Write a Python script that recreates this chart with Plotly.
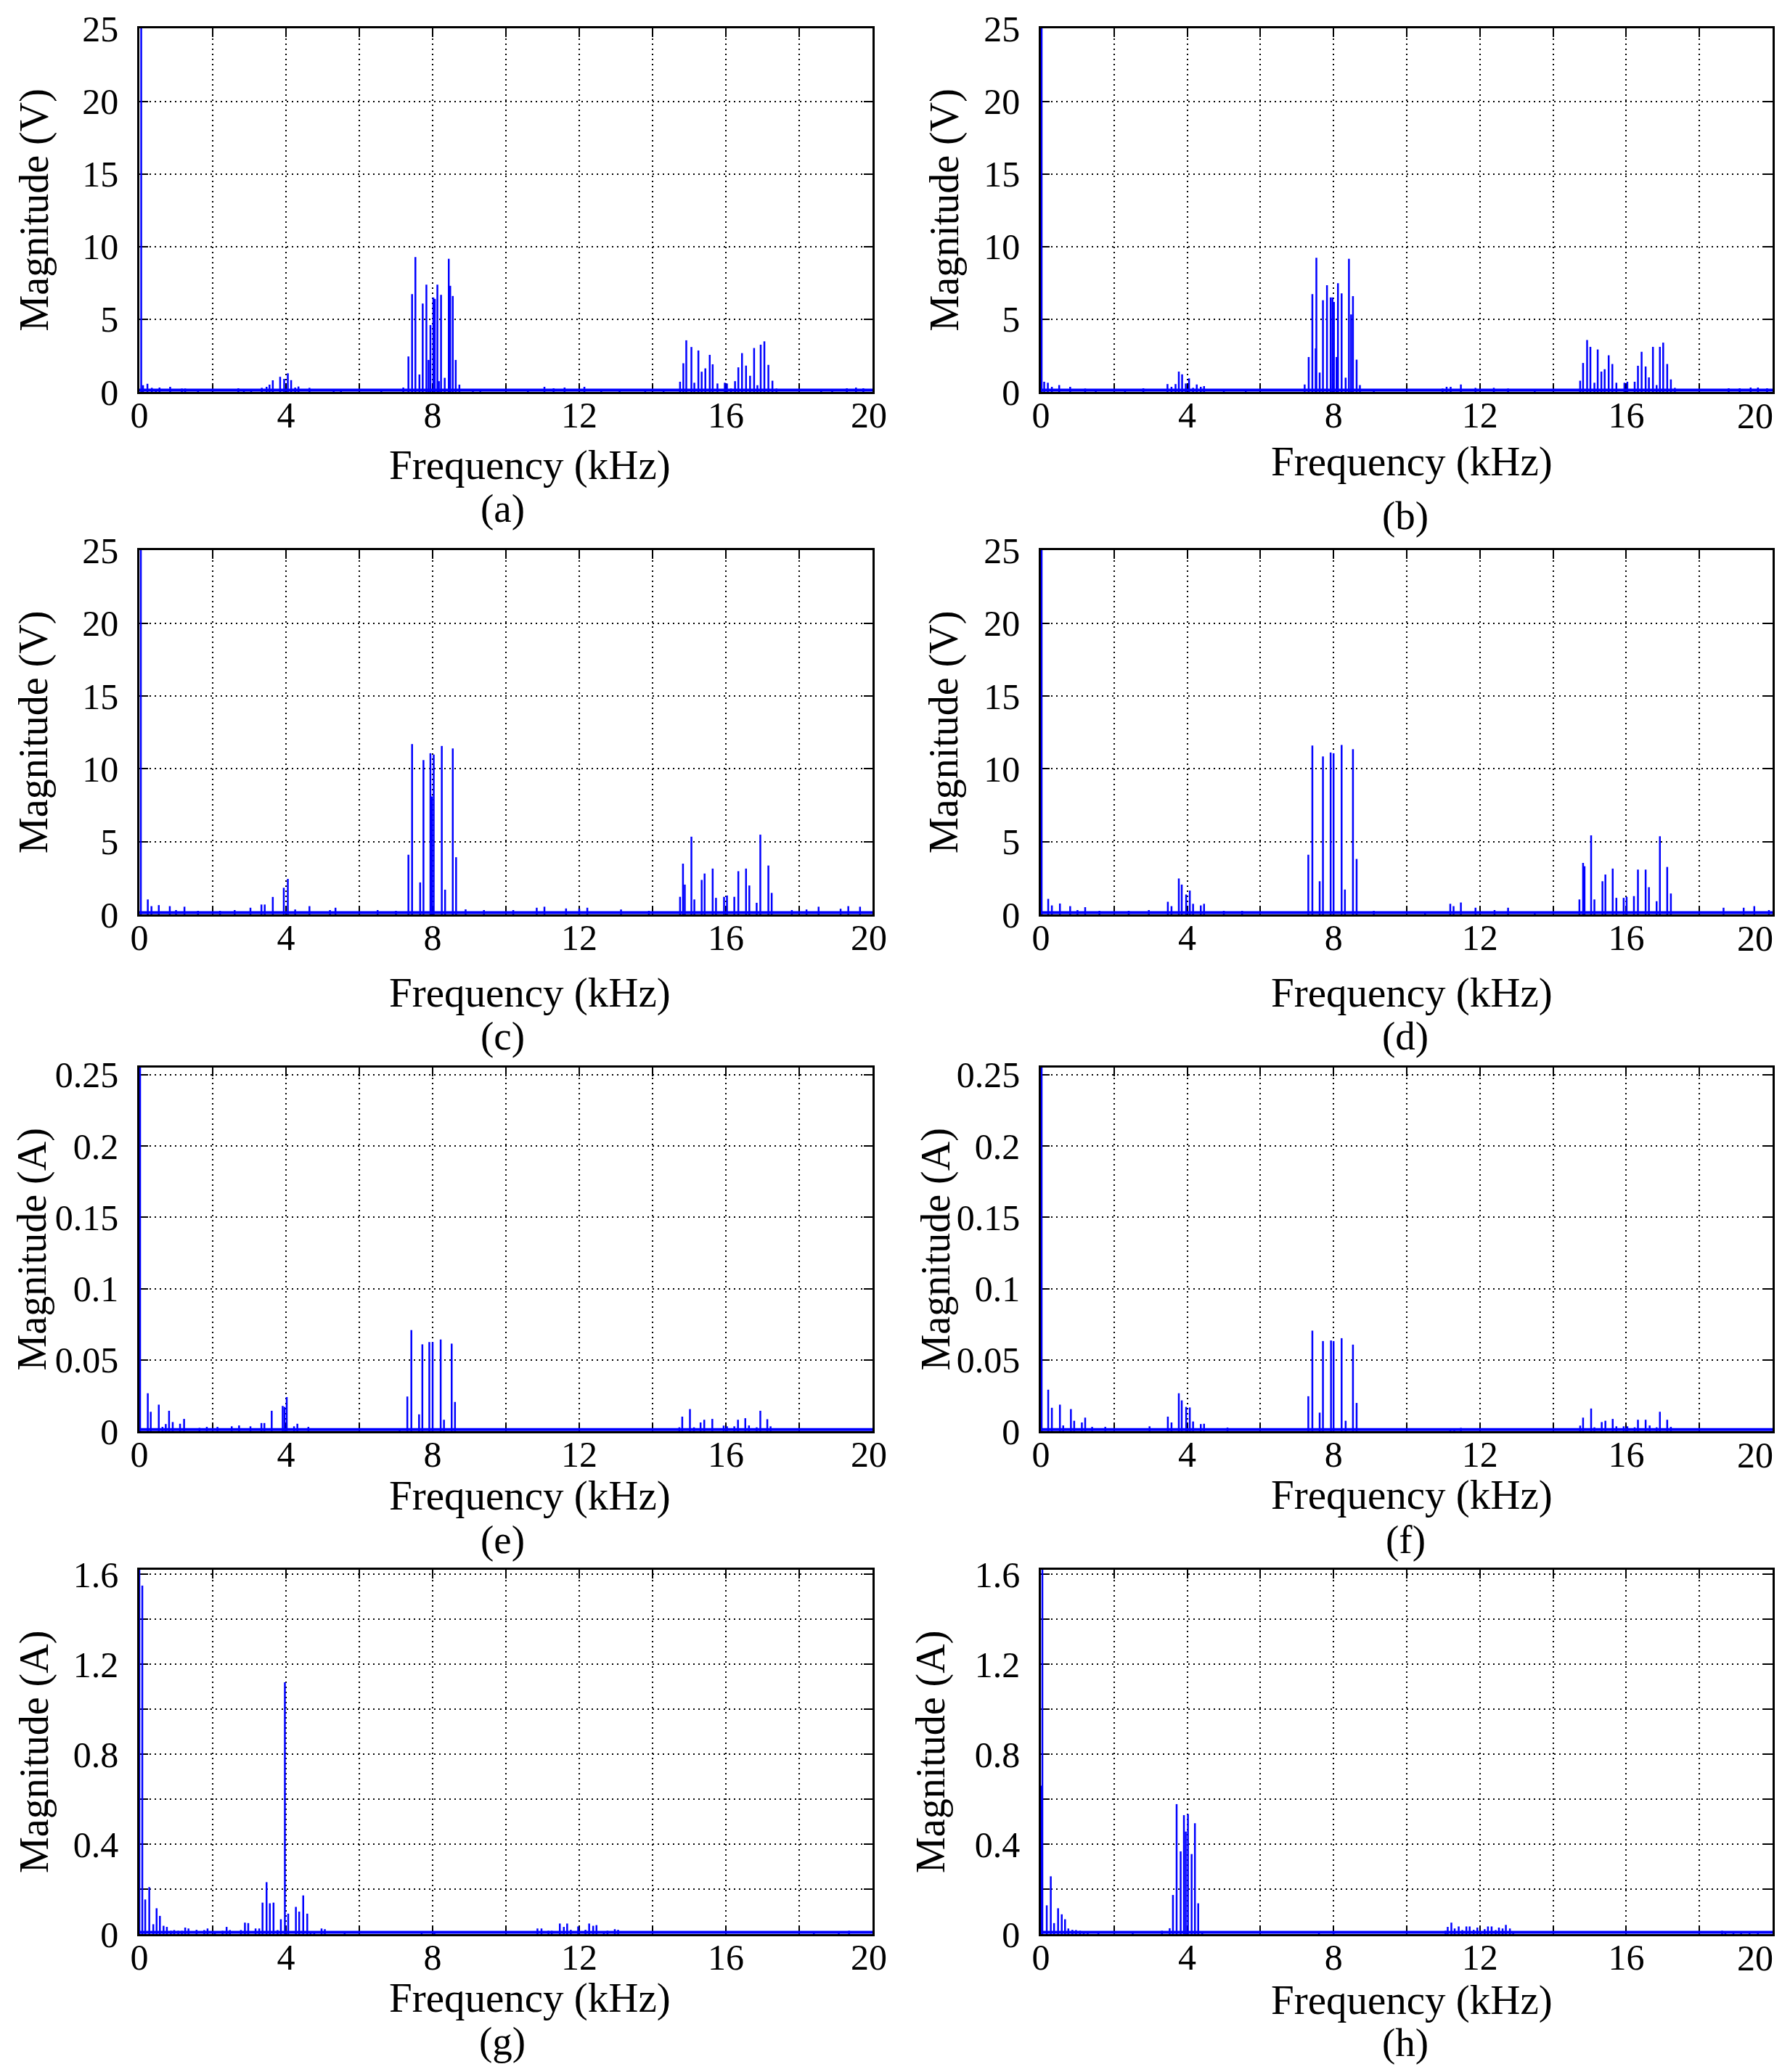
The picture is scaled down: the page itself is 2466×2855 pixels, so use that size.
import plotly.graph_objects as go

W, H = 2466, 2855
OFF = 8  # page offset of the plot div (default body margin)
FONT = "Liberation Serif"
BLUE = "#0000ff"

# ---------------- data: spectral lines (frequency in kHz, magnitude) ----------------
a_freq = [
    0.05, 0.10, 0.22, 0.34, 0.45, 0.55, 0.84, 1.16, 1.25, 1.60,
    2.70, 2.85, 3.05, 3.34, 3.47, 3.55, 3.64, 3.84, 3.95, 4.05,
    4.14, 4.25, 4.34, 4.64, 5.30, 5.50, 6.60, 7.20, 7.34, 7.44,
    7.53, 7.64, 7.73, 7.83, 7.89, 7.94, 8.02, 8.06, 8.13, 8.17,
    8.23, 8.33, 8.44, 8.48, 8.55, 8.63, 8.73, 9.10, 9.30, 10.60,
    11.05, 11.30, 11.60, 12.14, 12.60, 13.10, 13.80, 14.30, 14.75, 14.84,
    14.92, 15.06, 15.14, 15.25, 15.34, 15.44, 15.56, 15.64, 15.77, 15.97,
    16.03, 16.14, 16.25, 16.34, 16.44, 16.55, 16.66, 16.77, 16.86, 16.95,
    17.05, 17.16, 17.27, 17.38, 18.60, 18.90, 19.30, 19.55, 19.75]
a_mag = [
    160, 0.46, 0.56, 0.28, 0.20, 0.30, 0.35, 0.23, 0.23, 0.15,
    0.25, 0.20, 0.20, 0.28, 0.35, 0.50, 0.80, 1.04, 0.90, 1.28,
    0.81, 0.30, 0.37, 0.28, 0.20, 0.20, 0.20, 0.30, 2.44, 6.73,
    9.28, 1.20, 6.08, 7.38, 2.20, 4.60, 6.50, 6.40, 7.38, 0.74,
    6.68, 0.97, 9.16, 7.30, 6.60, 2.20, 0.50, 0.20, 0.15, 0.12,
    0.35, 0.25, 0.30, 0.35, 0.20, 0.20, 0.15, 0.20, 0.70, 1.97,
    3.55, 3.09, 0.63, 2.85, 1.39, 1.62, 2.55, 1.90, 0.58, 0.63,
    0.58, 0.23, 0.74, 1.69, 2.67, 1.81, 1.11, 3.02, 0.46, 3.25,
    3.48, 1.86, 0.77, 0.23, 0.20, 0.20, 0.25, 0.30, 0.25]

b_freq = [
    0.02, 0.09, 0.19, 0.30, 0.50, 0.80, 1.21, 1.50, 2.30, 2.80,
    3.46, 3.57, 3.68, 3.77, 3.86, 3.96, 4.05, 4.16, 4.26, 4.37,
    4.46, 5.00, 5.60, 7.21, 7.32, 7.42, 7.51, 7.53, 7.62, 7.71,
    7.82, 7.92, 7.97, 8.01, 8.08, 8.12, 8.22, 8.33, 8.42, 8.48,
    8.53, 8.63, 8.72, 9.10, 10.98, 11.09, 11.20, 11.48, 11.88, 12.38,
    12.77, 13.50, 14.74, 14.82, 14.93, 15.02, 15.13, 15.22, 15.32, 15.41,
    15.52, 15.62, 15.73, 15.95, 16.03, 16.23, 16.32, 16.42, 16.53, 16.62,
    16.73, 16.83, 16.92, 17.01, 17.12, 17.22, 17.33, 18.80, 19.10, 19.40,
    19.60, 19.85]
b_mag = [
    160, 0.70, 0.63, 0.35, 0.47, 0.35, 0.23, 0.15, 0.15, 0.25,
    0.54, 0.35, 0.54, 1.40, 1.21, 0.58, 0.93, 0.28, 0.51, 0.35,
    0.40, 0.20, 0.20, 0.51, 2.40, 6.73, 2.99, 9.23, 1.33, 6.31,
    7.34, 6.50, 6.50, 6.19, 2.40, 7.48, 6.78, 0.98, 9.16, 5.33,
    6.59, 2.22, 0.47, 0.20, 0.23, 0.35, 0.35, 0.51, 0.28, 0.28,
    0.23, 0.15, 0.77, 1.99, 3.57, 3.10, 0.63, 2.92, 1.40, 1.56,
    2.52, 1.92, 0.63, 0.63, 0.70, 0.70, 1.80, 2.76, 1.75, 1.00,
    3.10, 0.47, 3.10, 3.39, 1.92, 0.86, 0.28, 0.25, 0.25, 0.30,
    0.30, 0.25]

c_freq = [
    0.04, 0.23, 0.33, 0.53, 0.83, 1.00, 1.23, 1.60, 2.20, 2.60,
    3.03, 3.33, 3.42, 3.64, 3.94, 4.05, 4.25, 4.64, 5.20, 5.35,
    6.50, 7.00, 7.34, 7.44, 7.66, 7.75, 7.94, 7.98, 8.03, 8.25,
    8.34, 8.55, 8.64, 8.90, 9.40, 10.20, 10.84, 11.05, 11.64, 12.00,
    12.22, 13.14, 13.90, 14.75, 14.83, 14.88, 15.06, 15.14, 15.34, 15.42,
    15.64, 15.73, 15.95, 16.03, 16.23, 16.34, 16.55, 16.64, 16.84, 16.94,
    17.16, 17.25, 17.80, 18.20, 18.53, 19.13, 19.34, 19.66]
c_mag = [
    160, 1.03, 0.57, 0.64, 0.57, 0.30, 0.53, 0.25, 0.25, 0.30,
    0.46, 0.68, 0.68, 1.20, 1.83, 2.44, 0.34, 0.57, 0.30, 0.46,
    0.30, 0.25, 4.10, 11.70, 2.20, 10.60, 11.07, 8.10, 10.98, 11.57,
    1.70, 11.40, 3.93, 0.35, 0.30, 0.30, 0.46, 0.53, 0.41, 0.40,
    0.46, 0.34, 0.25, 1.21, 3.49, 2.05, 5.34, 1.03, 2.37, 2.81,
    3.15, 1.14, 1.21, 1.30, 1.21, 2.97, 3.15, 1.99, 0.80, 5.48,
    3.36, 1.48, 0.30, 0.34, 0.53, 0.39, 0.57, 0.53]

d_freq = [
    0.02, 0.20, 0.30, 0.52, 0.80, 1.00, 1.21, 1.60, 2.40, 2.95,
    3.47, 3.57, 3.77, 3.85, 3.97, 4.07, 4.16, 4.37, 4.46, 5.00,
    5.50, 7.31, 7.42, 7.62, 7.71, 7.92, 8.00, 8.22, 8.31, 8.53,
    8.63, 9.10, 10.50, 11.19, 11.28, 11.48, 11.88, 12.40, 12.77, 13.50,
    14.72, 14.82, 14.86, 15.04, 15.13, 15.35, 15.43, 15.63, 15.73, 15.93,
    16.01, 16.21, 16.32, 16.53, 16.62, 16.83, 16.92, 17.12, 17.22, 18.66,
    19.21, 19.50, 19.90]
d_mag = [
    160, 1.07, 0.62, 0.75, 0.57, 0.30, 0.50, 0.25, 0.25, 0.30,
    0.87, 0.57, 2.47, 2.05, 1.37, 1.64, 0.73, 0.62, 0.73, 0.25,
    0.25, 4.10, 11.60, 2.28, 10.85, 11.12, 11.07, 11.64, 1.71, 11.35,
    3.81, 0.25, 0.20, 0.73, 0.57, 0.82, 0.46, 0.30, 0.46, 0.20,
    1.03, 3.54, 3.31, 5.43, 1.03, 2.28, 2.74, 3.15, 1.14, 1.14,
    1.21, 1.26, 3.08, 3.08, 1.87, 0.91, 5.37, 3.26, 1.44, 0.46,
    0.46, 0.57, 0.30]

e_freq = [
    0.02, 0.23, 0.31, 0.53, 0.63, 0.72, 0.81, 0.91, 1.11, 1.22,
    1.64, 1.84, 2.13, 2.52, 2.72, 3.03, 3.33, 3.41, 3.61, 3.91,
    3.96, 4.02, 4.22, 4.31, 4.61, 7.10, 7.31, 7.42, 7.63, 7.72,
    7.91, 8.00, 8.22, 8.31, 8.52, 8.61, 14.73, 14.81, 15.02, 15.13,
    15.31, 15.41, 15.63, 15.94, 16.03, 16.23, 16.33, 16.53, 16.63, 16.84,
    16.94, 17.13, 17.22]
e_mag = [
    1.5, 0.0266, 0.0136, 0.0186, 0.0030, 0.0050, 0.0143, 0.0064, 0.0052, 0.0086,
    0.0023, 0.0030, 0.0030, 0.0034, 0.0040, 0.0034, 0.0057, 0.0057, 0.0143, 0.0177,
    0.0170, 0.0239, 0.0034, 0.0052, 0.0030, 0.0020, 0.0243, 0.0709, 0.0118, 0.0609,
    0.0625, 0.0625, 0.0643, 0.0080, 0.0614, 0.0205, 0.0027, 0.0102, 0.0155, 0.0027,
    0.0061, 0.0080, 0.0086, 0.0039, 0.0034, 0.0034, 0.0080, 0.0091, 0.0040, 0.0027,
    0.0143, 0.0084, 0.0034]

f_freq = [
    0.02, 0.20, 0.30, 0.52, 0.61, 0.82, 0.91, 1.12, 1.21, 1.40,
    1.76, 2.97, 3.47, 3.57, 3.77, 3.85, 3.97, 4.07, 4.16, 4.37,
    4.46, 5.10, 7.31, 7.42, 7.62, 7.71, 7.93, 8.00, 8.22, 8.33,
    8.53, 8.63, 11.19, 11.30, 11.48, 14.74, 14.82, 15.04, 15.13, 15.33,
    15.43, 15.63, 15.73, 15.93, 16.03, 16.23, 16.32, 16.53, 16.64, 16.83,
    16.92, 17.12, 17.22]
f_mag = [
    1.5, 0.0291, 0.0164, 0.0186, 0.0040, 0.0155, 0.0073, 0.0061, 0.0095, 0.0030,
    0.0030, 0.0034, 0.0102, 0.0061, 0.0266, 0.0216, 0.0170, 0.0166, 0.0068, 0.0050,
    0.0052, 0.0025, 0.0245, 0.0705, 0.0130, 0.0632, 0.0636, 0.0632, 0.0652, 0.0073,
    0.0607, 0.0198, 0.0018, 0.0018, 0.0023, 0.0039, 0.0095, 0.0159, 0.0027, 0.0064,
    0.0073, 0.0086, 0.0034, 0.0034, 0.0034, 0.0027, 0.0080, 0.0080, 0.0040, 0.0027,
    0.0136, 0.0080, 0.0030]

g_freq = [
    0.00, 0.08, 0.16, 0.27, 0.38, 0.47, 0.56, 0.66, 0.75, 0.86,
    0.95, 1.06, 1.16, 1.25, 1.34, 1.56, 1.77, 1.86, 2.06, 2.27,
    2.38, 2.47, 2.77, 2.88, 2.97, 3.17, 3.27, 3.36, 3.47, 3.56,
    3.66, 3.77, 3.86, 3.97, 4.06, 4.27, 4.36, 4.47, 4.58, 4.67,
    4.77, 4.97, 5.06, 5.60, 7.70, 8.05, 10.86, 10.97, 11.16, 11.25,
    11.47, 11.58, 11.67, 11.77, 11.97, 12.17, 12.27, 12.38, 12.47, 12.67,
    12.77, 12.97, 13.06, 18.40, 19.08, 19.36]
g_mag = [
    3.0, 1.55, 0.154, 0.209, 0.044, 0.115, 0.081, 0.037, 0.032, 0.015,
    0.018, 0.015, 0.015, 0.029, 0.025, 0.019, 0.018, 0.025, 0.012, 0.015,
    0.032, 0.018, 0.018, 0.051, 0.049, 0.025, 0.025, 0.140, 0.231, 0.137,
    0.140, 0.018, 0.066, 1.12, 0.091, 0.121, 0.100, 0.172, 0.091, 0.007,
    0.007, 0.025, 0.022, 0.007, 0.004, 0.007, 0.025, 0.025, 0.015, 0.015,
    0.047, 0.032, 0.047, 0.019, 0.034, 0.019, 0.047, 0.037, 0.040, 0.012,
    0.015, 0.022, 0.019, 0.010, 0.007, 0.015]

h_freq = [
    0.00, 0.04, 0.16, 0.27, 0.36, 0.47, 0.57, 0.66, 0.75, 0.86,
    0.96, 1.07, 1.17, 1.28, 1.57, 2.51, 3.31, 3.52, 3.61, 3.71,
    3.82, 3.91, 3.96, 4.02, 4.12, 4.21, 4.30, 4.41, 7.60, 8.00,
    11.06, 11.12, 11.22, 11.31, 11.42, 11.52, 11.63, 11.72, 11.83, 11.93,
    12.02, 12.13, 12.22, 12.32, 12.43, 12.52, 12.62, 12.71, 12.82, 12.91,
    18.62, 18.71, 18.93, 19.14, 19.37, 19.60]
h_mag = [
    0.66, 3.0, 0.128, 0.257, 0.049, 0.115, 0.088, 0.066, 0.025, 0.019,
    0.018, 0.015, 0.010, 0.008, 0.007, 0.007, 0.015, 0.026, 0.174, 0.578,
    0.368, 0.529, 0.456, 0.534, 0.356, 0.493, 0.137, 0.007, 0.004, 0.004,
    0.015, 0.032, 0.051, 0.025, 0.034, 0.018, 0.034, 0.034, 0.019, 0.029,
    0.010, 0.022, 0.034, 0.034, 0.018, 0.029, 0.025, 0.041, 0.025, 0.007,
    0.015, 0.012, 0.007, 0.007, 0.007, 0.006]

# noise floor level of each spectrum
noise_floor = {"a": 0.12, "b": 0.12, "c": 0.12, "d": 0.12,
               "e": 0.0012, "f": 0.0012, "g": 0.008, "h": 0.008}

panel_labels = ["(a)", "(b)", "(c)", "(d)", "(e)", "(f)", "(g)", "(h)"]
y_titles = ["Magnitude (V)"] * 4 + ["Magnitude (A)"] * 4
x_title = "Frequency (kHz)"

x_ticks = [0, 4, 8, 12, 16, 20]
x_ticktext_left = ["0", "4", "8", "12", "16", "20\u2009"]
x_ticktext_right = ["0", "4", "8", "12", "16", ""]  # last label drawn shifted (see below)
x_last_label = "20"
v_ticks = [0, 5, 10, 15, 20, 25]
ie_ticks = [0, 0.05, 0.1, 0.15, 0.2, 0.25]
ig_ticks = [0, 0.4, 0.8, 1.2, 1.6]

series = [(a_freq, a_mag), (b_freq, b_mag), (c_freq, c_mag), (d_freq, d_mag),
          (e_freq, e_mag), (f_freq, f_mag), (g_freq, g_mag), (h_freq, h_mag)]
keys = "abcdefgh"

# ---------------- layout geometry (page pixels) ----------------
col_px = [(192, 1202), (1434, 2442)]
row_px = [(39, 540), (758, 1260), (1471, 1972), (2163, 2665)]
xtitle_px = [(730, 641), (1945, 636), (730, 1368), (1945, 1368),
             (730, 2061), (1945, 2060), (730, 2753), (1945, 2756)]
cap_px = [(692, 700), (1936, 711), (692, 1427), (1936, 1427),
          (692, 2121), (1936, 2121), (692, 2812), (1936, 2814)]
ytitle_x = [47, 1301, 47, 1301, 44, 1289, 47, 1282]


def px_x(p):
    return (p - OFF) / W


def px_y(p):
    return 1 - (p - OFF) / H


fig = go.Figure()
ann = []
GRID = dict(gridcolor="black", griddash="2px,5px", gridwidth=2)

for i in range(8):
    r, c = divmod(i, 2)
    fr, mg = series[i]
    k = keys[i]
    xs, ys = [], []
    for f, v in zip(fr, mg):
        xs += [f, f, None]
        ys += [0, v, None]
    xa = "x" if i == 0 else f"x{i+1}"
    ya = "y" if i == 0 else f"y{i+1}"
    fl = noise_floor[k]
    fig.add_trace(go.Scatter(x=[0, 20], y=[fl, fl], mode="lines",
                             line=dict(color=BLUE, width=4), xaxis=xa, yaxis=ya,
                             showlegend=False, hoverinfo="skip"))
    fig.add_trace(go.Scatter(x=xs, y=ys, mode="lines",
                             line=dict(color=BLUE, width=2.5), xaxis=xa, yaxis=ya,
                             showlegend=False))

    x0, x1 = col_px[c]
    t, b = row_px[r]
    xdom = [px_x(x0), px_x(x1)]
    ydom = [px_y(b), px_y(t)]

    if i < 4:
        yr, yt, ytxt, yminor = [0, 25.02], v_ticks, [str(v) for v in v_ticks], None
    elif i < 6:
        yr, yt, ytxt, yminor = [0, 0.255], ie_ticks, ["0", "0.05", "0.1", "0.15", "0.2", "0.25"], None
    else:
        yr, yt, ytxt, yminor = [0, 1.62], ig_ticks, ["0", "0.4", "0.8", "1.2", "1.6"], 0.2

    common = dict(showline=True, linecolor="black", linewidth=2.5, mirror="ticks",
                  ticks="inside", ticklen=12, tickwidth=2, tickcolor="black",
                  showgrid=True, zeroline=False, layer="below traces", automargin=False,
                  ticklabeloverflow="allow",
                  tickfont=dict(family=FONT, size=50, color="black"), **GRID)
    xkey = "xaxis" if i == 0 else f"xaxis{i+1}"
    ykey = "yaxis" if i == 0 else f"yaxis{i+1}"
    fig.update_layout({
        xkey: dict(domain=xdom, anchor=ya, range=[0, 20], tickvals=x_ticks,
                   ticktext=(x_ticktext_left if c == 0 else x_ticktext_right),
                   ticklabelstandoff=-14,
                   minor=dict(dtick=2, tick0=0, showgrid=True, ticks="inside",
                              ticklen=12, tickwidth=2, tickcolor="black", **GRID),
                   **common),
        ykey: dict(domain=ydom, anchor=xa, range=yr, tickvals=yt, ticktext=ytxt,
                   ticklabelstandoff=16,
                   minor=(dict(dtick=yminor, tick0=0, showgrid=True, ticks="inside",
                               ticklen=12, tickwidth=2, tickcolor="black", **GRID)
                          if yminor else None),
                   **common),
    })

    if c == 1:
        # right-column "20" label sits slightly inside the page edge, as in the original
        ann.append(dict(text=x_last_label, x=x_ticks[-1], xref=xa, y=px_y(b + 33), yref="paper",
                        xanchor="center", yanchor="middle", xshift=-24, showarrow=False,
                        font=dict(family=FONT, size=50, color="black")))

    tx, ty = xtitle_px[i]
    ann.append(dict(text=x_title, x=px_x(tx), y=px_y(ty), xref="paper", yref="paper",
                    xanchor="center", yanchor="middle", showarrow=False,
                    font=dict(family=FONT, size=57, color="black")))
    cx, cy = cap_px[i]
    ann.append(dict(text=panel_labels[i], x=px_x(cx), y=px_y(cy), xref="paper", yref="paper",
                    xanchor="center", yanchor="middle", showarrow=False,
                    font=dict(family=FONT, size=55, color="black")))
    ann.append(dict(text=y_titles[i], x=px_x(ytitle_x[i]), y=px_y((t + b) / 2),
                    xref="paper", yref="paper", xanchor="center", yanchor="middle",
                    textangle=-90, showarrow=False,
                    font=dict(family=FONT, size=56, color="black")))

fig.update_layout(width=W, height=H, margin=dict(l=0, r=0, t=0, b=0, autoexpand=False),
                  paper_bgcolor="white", plot_bgcolor="white",
                  annotations=ann, showlegend=False)

fig.write_html("out.html")
